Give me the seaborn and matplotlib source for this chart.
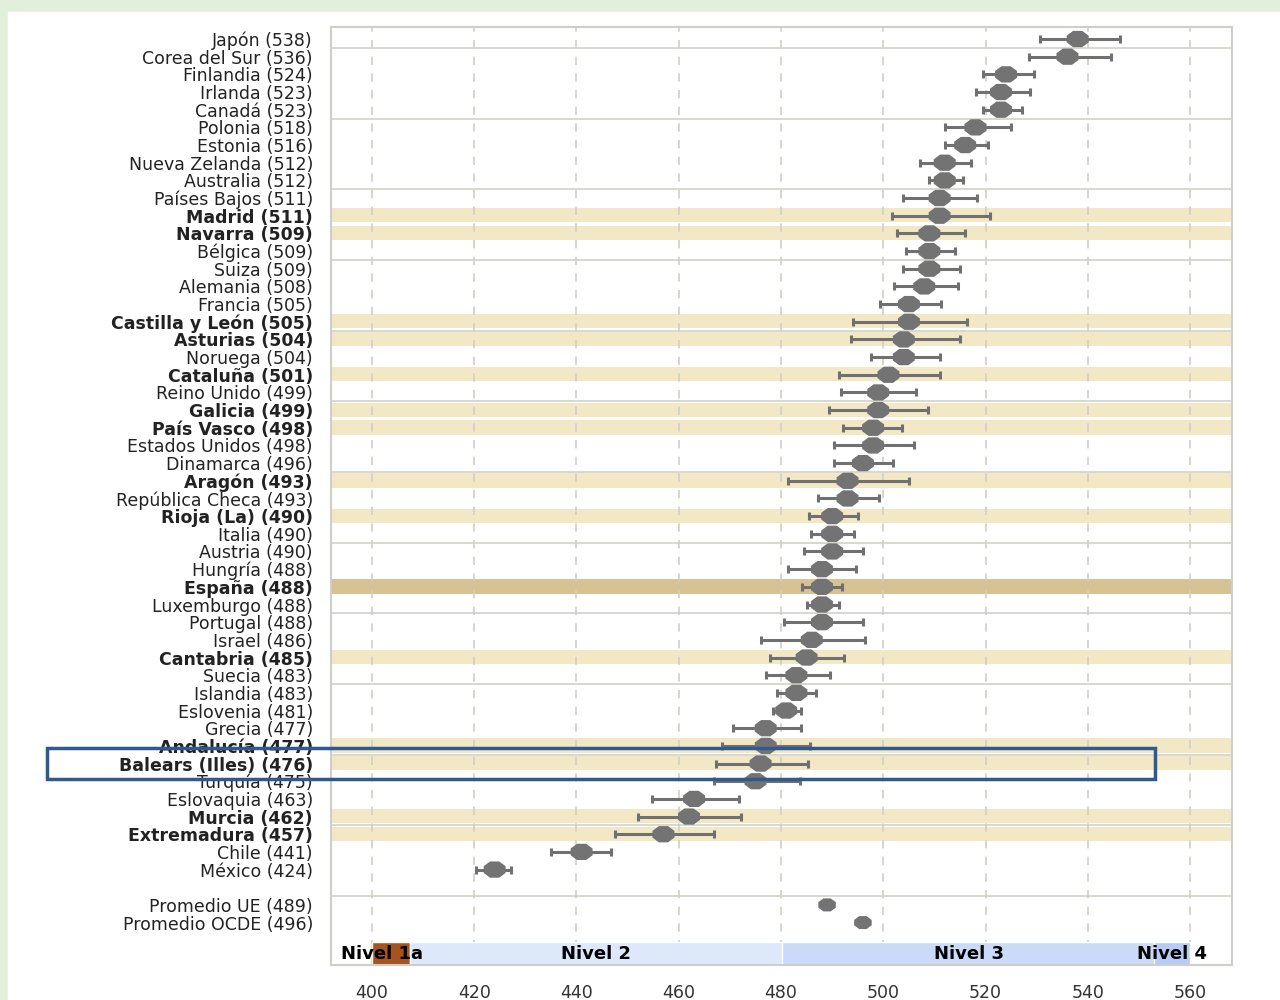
import seaborn as sns
import matplotlib.pyplot as plt
import matplotlib.transforms as mtransforms
from matplotlib.patches import Rectangle
import numpy as np
import pandas as pd

sns.set_style('white')
plt.rcParams['font.family'] = ['DejaVu Sans']

# datos PISA lectura: media e intervalo
paises = ['Japón (538)', 'Corea del Sur (536)', 'Finlandia (524)', 'Irlanda (523)', 'Canadá (523)',
          'Polonia (518)', 'Estonia (516)', 'Nueva Zelanda (512)', 'Australia (512)', 'Países Bajos (511)',
          'Madrid (511)', 'Navarra (509)', 'Bélgica (509)', 'Suiza (509)', 'Alemania (508)',
          'Francia (505)', 'Castilla y León (505)', 'Asturias (504)', 'Noruega (504)', 'Cataluña (501)',
          'Reino Unido (499)', 'Galicia (499)', 'País Vasco (498)', 'Estados Unidos (498)', 'Dinamarca (496)',
          'Aragón (493)', 'República Checa (493)', 'Rioja (La) (490)', 'Italia (490)', 'Austria (490)',
          'Hungría (488)', 'España (488)', 'Luxemburgo (488)', 'Portugal (488)', 'Israel (486)',
          'Cantabria (485)', 'Suecia (483)', 'Islandia (483)', 'Eslovenia (481)', 'Grecia (477)',
          'Andalucía (477)', 'Balears (Illes) (476)', 'Turquía (475)', 'Eslovaquia (463)', 'Murcia (462)',
          'Extremadura (457)', 'Chile (441)', 'México (424)']
medias = [538, 536, 524, 523, 523, 518, 516, 512, 512, 511,
          511, 509, 509, 509, 508, 505, 505, 504, 504, 501,
          499, 499, 498, 498, 496, 493, 493, 490, 490, 490,
          488, 488, 488, 488, 486, 485, 483, 483, 481, 477,
          477, 476, 475, 463, 462, 457, 441, 424]
ic_inf = [530.7, 528.5, 519.5, 518.1, 519.5, 512.1, 512.1, 507.2, 508.9, 503.9,
          501.7, 502.6, 504.4, 503.9, 502.1, 499.4, 494.0, 493.6, 497.6, 491.3,
          491.7, 489.4, 492.2, 490.3, 490.3, 481.4, 487.2, 485.4, 485.9, 484.4,
          481.4, 484.1, 485.1, 480.6, 476.1, 477.9, 477.1, 479.3, 478.4, 470.7,
          468.5, 467.2, 466.8, 454.7, 452.0, 447.6, 435.0, 420.3]
ic_sup = [546.3, 544.5, 529.4, 528.7, 527.2, 524.9, 520.5, 517.2, 515.5, 518.3,
          520.8, 515.9, 514.1, 515.0, 514.6, 511.3, 516.3, 515.0, 511.0, 511.0,
          506.4, 508.7, 503.6, 505.9, 501.9, 505.0, 499.1, 495.1, 494.2, 496.0,
          494.7, 491.9, 491.3, 496.0, 496.4, 492.3, 489.6, 486.9, 483.9, 483.9,
          485.6, 485.2, 483.7, 471.7, 472.1, 466.8, 446.7, 427.2]

comunidades = ['Madrid (511)', 'Navarra (509)', 'Castilla y León (505)', 'Asturias (504)',
               'Cataluña (501)', 'Galicia (499)', 'País Vasco (498)', 'Aragón (493)',
               'Rioja (La) (490)', 'Cantabria (485)', 'Andalucía (477)', 'Balears (Illes) (476)',
               'Murcia (462)', 'Extremadura (457)']
espana = 'España (488)'

promedios = ['Promedio UE (489)', 'Promedio OCDE (496)']
medias_prom = [489, 496]

niveles = ['Nivel 1a', 'Nivel 2', 'Nivel 3', 'Nivel 4']
nivel_ini = [400, 407.47, 480.18, 552.89]
nivel_fin = [407.47, 480.18, 552.89, 560]
nivel_col = ['#a5541f', '#dde8fc', '#c9dbf9', '#b6ccf6']

pos = list(range(len(paises)))
pos_prom = [len(paises) + 1, len(paises) + 2]

df = pd.DataFrame({'etiqueta': paises, 'media': medias, 'pos': pos})
df_prom = pd.DataFrame({'etiqueta': promedios, 'media': medias_prom, 'pos': pos_prom})

# punto algo achatado, como en el original
t = np.linspace(0, 2 * np.pi, 9)[:-1] + np.pi / 8
punto = np.column_stack([1.35 * np.cos(t), np.sin(t)])

fig = plt.figure(figsize=(12.8, 10), dpi=100, facecolor='#e2efda')
fig.patches.append(Rectangle((8 / 1280, 0), 1, 0.988, transform=fig.transFigure,
                             color='white', zorder=-10))
ax = fig.add_axes([0.2586, 0.035, 0.704, 0.938])

# franjas de las comunidades autonomas
for i, p in enumerate(paises):
    if p in comunidades:
        ax.axhspan(i - 0.42, i + 0.38, color='#f2e8c6', lw=0, zorder=0)
    elif p == espana:
        ax.axhspan(i - 0.42, i + 0.38, color='#d6c292', lw=0, zorder=0)

for y in np.arange(0.5, 49, 4):
    ax.axhline(y, color='#d6d6ce', lw=1.3, zorder=0.5)
for x in range(400, 561, 20):
    ax.axvline(x, color='#cfcfc5', lw=1.2, ls=(0, (5, 5)), zorder=1)

# bandas de niveles
y_niv = 51.76
ax.barh(y_niv, np.array(nivel_fin) - np.array(nivel_ini), left=nivel_ini, height=1.3,
        color=nivel_col, zorder=2)
for n, x, ha in zip(niveles, [394, 443.8, 516.8, 556.5], ['left', 'center', 'center', 'center']):
    ax.text(x, y_niv, n, fontsize=13, fontweight='bold', ha=ha, va='center',
            color='black', zorder=5)

ax.errorbar(medias, pos, xerr=[np.array(medias) - np.array(ic_inf), np.array(ic_sup) - np.array(medias)],
            fmt='none', ecolor='#707070', elinewidth=2.2, capsize=3, capthick=2.2, zorder=3)
sns.scatterplot(data=df, x='media', y='pos', color='#737373', s=250, marker=punto,
                edgecolor='none', zorder=4, ax=ax, legend=False)
sns.scatterplot(data=df_prom, x='media', y='pos', color='#737373', s=160, marker=punto,
                edgecolor='none', zorder=4, ax=ax, legend=False)

ax.set_xlim(392, 568.2)
ax.set_ylim(52.4, -0.68)
etiquetas = paises + promedios
ax.set_yticks(pos + pos_prom)
ax.set_yticklabels(etiquetas, fontsize=12.5, color='#222222')
for lbl in ax.get_yticklabels():
    if lbl.get_text() in comunidades or lbl.get_text() == espana:
        lbl.set_fontweight('bold')
ax.set_xticks(range(400, 561, 20))
ax.tick_params(axis='y', length=9, width=1.4, color='#222222', pad=4)
ax.tick_params(axis='x', length=8, width=1.2, color='#999999', labelsize=12.5,
               labelcolor='#333333', pad=6)
ax.set_xlabel('')
ax.set_ylabel('')
for s in ax.spines.values():
    s.set_color('#cfcfc7')
    s.set_linewidth(1.5)

# recuadro de Baleares
trans = mtransforms.blended_transform_factory(ax.transAxes, ax.transData)
ax.add_patch(Rectangle((-0.315, 40.1), 1.2295, 1.8, transform=trans, fill=False,
                       edgecolor='#2e5a8e', lw=2.5, clip_on=False, zorder=6))

fig.savefig('out.png', dpi=100, facecolor=fig.get_facecolor())
